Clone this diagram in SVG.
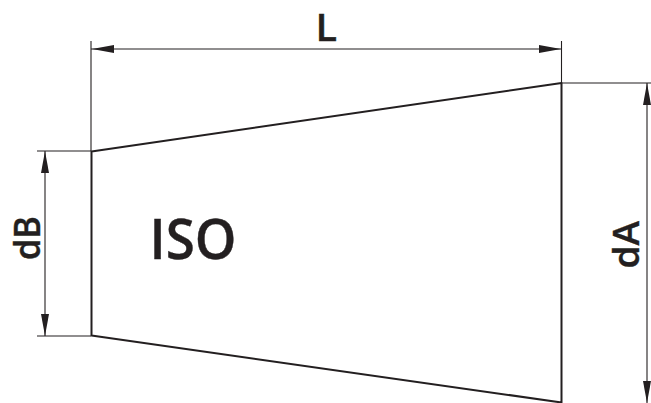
<svg xmlns="http://www.w3.org/2000/svg" width="651" height="403" viewBox="0 0 651 403">
<style>
.thin{stroke:#231f20;stroke-width:1.1;fill:none}
.body{stroke:#231f20;stroke-width:2;fill:none;stroke-linejoin:round}
.head{fill:#231f20;stroke:none}
text{font-family:"Open Sans","Noto Sans",sans-serif;font-weight:600;fill:#231f20;stroke:#231f20;stroke-width:.4}
</style>
<defs>
<polygon id="arrow" class="head" points="0,0 22,-4 22,4"/>
</defs>
<g id="connectors">
<line class="thin" x1="91" y1="41" x2="91" y2="151"/>
<line class="thin" x1="561.500" y1="41" x2="561.500" y2="83"/>
<line class="thin" x1="91" y1="49" x2="561" y2="49"/>
<use href="#arrow" transform="translate(92,49)"/>
<use href="#arrow" transform="translate(561,49) rotate(180)"/>
<line class="thin" x1="37" y1="151" x2="91" y2="151"/>
<line class="thin" x1="37" y1="336" x2="91" y2="336"/>
<line class="thin" x1="45" y1="151" x2="45" y2="336"/>
<use href="#arrow" transform="translate(45,151) rotate(90)"/>
<use href="#arrow" transform="translate(45,336) rotate(-90)"/>
<line class="thin" x1="561" y1="83" x2="651" y2="83"/>
<line class="thin" x1="647" y1="83" x2="647" y2="403"/>
<use href="#arrow" transform="translate(647,83) rotate(90)"/>
<use href="#arrow" transform="translate(647,403) rotate(-90)"/>
</g>
<g id="cone">
<polygon class="body" points="91.500,151.500 561.500,83 561.500,402.500 91.500,335.500"/>
</g>
<g id="labels">
<text x="315.500" y="40.500" font-size="38.500" textLength="21.500" lengthAdjust="spacingAndGlyphs">L</text>
<text x="149.500" y="259" font-size="56" textLength="87" lengthAdjust="spacingAndGlyphs">ISO</text>
<text transform="translate(40,260) rotate(-90)" font-size="36.800" textLength="44" lengthAdjust="spacingAndGlyphs">dB</text>
<text transform="translate(639,268.500) rotate(-90)" font-size="36.800" textLength="47.500" lengthAdjust="spacingAndGlyphs">dA</text>
</g>
</svg>
